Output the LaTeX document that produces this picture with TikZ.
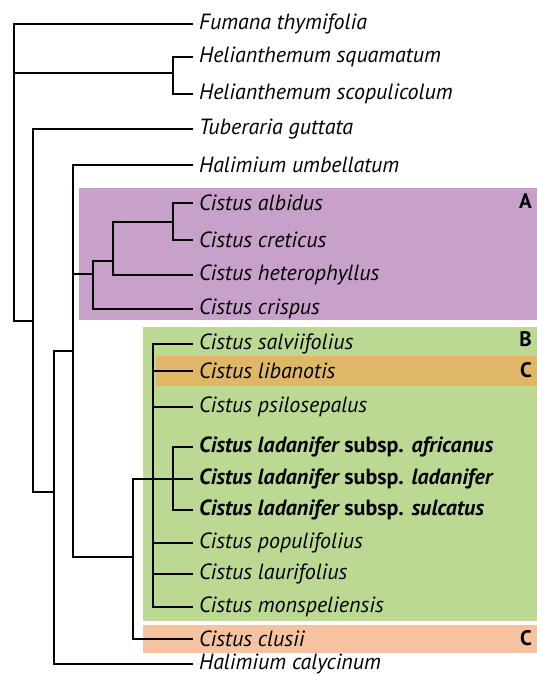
\documentclass[tikz,border=0pt]{standalone}
\usepackage{fontspec}
\setmainfont{PT Sans}
\usetikzlibrary{positioning}

\definecolor{cladeA}{RGB}{200,161,202}
\definecolor{cladeB}{RGB}{188,217,148}
\definecolor{cladeC}{RGB}{224,183,102}
\definecolor{cladeD}{RGB}{245,195,160}

\begin{document}
\begin{tikzpicture}[
    x=1pt, y=-1pt,
    taxon/.style={anchor=west, inner xsep=6pt, inner ysep=0pt, font=\fontsize{22}{24}\selectfont\itshape},
    clade/.style={anchor=east, inner sep=0pt, font=\fontsize{21}{24}\selectfont\bfseries},
    branch/.style={line width=1.8pt, black}
]
\useasboundingbox (0,0) rectangle (537,676);

% Clade boxes
\fill[cladeA] (79,188) rectangle (537,320);
\fill[cladeB] (143,327) rectangle (537,621);
\fill[cladeC] (156,356) rectangle (537,386);
\fill[cladeD] (143,625) rectangle (537,653);

\node[clade] (labA) at (532,201) {A};
\node[clade] (labB) at (532,339) {B};
\node[clade] (labC) at (532,370) {C};
\node[clade] (labD) at (532,638) {C};

% Taxa
\node[taxon] (fumana) at (193,24) {Fumana thymifolia};
\node[taxon] (hsqua) at (193,57) {Helianthemum squamatum};
\node[taxon] (hscop) at (193,94) {Helianthemum scopulicolum};
\node[taxon] (tuber) at (193,129) {Tuberaria guttata};
\node[taxon] (humb) at (193,165) {Halimium umbellatum};
\node[taxon] (albid) at (193,203) {Cistus albidus};
\node[taxon] (creti) at (193,240) {Cistus creticus};
\node[taxon] (heter) at (193,275) {Cistus heterophyllus};
\node[taxon] (crisp) at (193,309) {Cistus crispus};
\node[taxon] (salvi) at (193,344) {Cistus salviifolius};
\node[taxon] (liban) at (193,371) {Cistus libanotis};
\node[taxon] (psilo) at (193,407) {Cistus psilosepalus};
\node[taxon] (lafri) at (193,447) {\textbf{Cistus ladanifer} \textbf{\upshape subsp.} \textbf{africanus}};
\node[taxon] (llada) at (193,479) {\textbf{Cistus ladanifer} \textbf{\upshape subsp.} \textbf{ladanifer}};
\node[taxon] (lsulc) at (193,510) {\textbf{Cistus ladanifer} \textbf{\upshape subsp.} \textbf{sulcatus}};
\node[taxon] (popul) at (193,543) {Cistus populifolius};
\node[taxon] (lauri) at (193,574) {Cistus laurifolius};
\node[taxon] (monsp) at (193,607) {Cistus monspeliensis};
\node[taxon] (clusi) at (193,639) {Cistus clusii};
\node[taxon] (hcaly) at (193,664) {Halimium calycinum};

% Internal nodes
\coordinate (root) at (14,170);
\coordinate (nhel) at (173,73);
\coordinate (n1) at (33,321);
\coordinate (n2) at (54,492);
\coordinate (n3) at (73,351);
\coordinate (nA) at (93,274);
\coordinate (nA2) at (113,261);
\coordinate (nA3) at (173,222);
\coordinate (n4) at (133,557);
\coordinate (nB) at (153,479);
\coordinate (nlad) at (173,479);

% Branches
\draw[branch] (root) |- (fumana.west);
\draw[branch] (root) |- (nhel);
\draw[branch] (root) |- (n1);
\draw[branch] (nhel) |- (hsqua.west);
\draw[branch] (nhel) |- (hscop.west);
\draw[branch] (n1) |- (tuber.west);
\draw[branch] (n1) |- (n2);
\draw[branch] (n2) |- (n3);
\draw[branch] (n2) |- (hcaly.west);
\draw[branch] (n3) |- (humb.west);
\draw[branch] (n3) |- (nA);
\draw[branch] (n3) |- (n4);
\draw[branch] (nA) |- (nA2);
\draw[branch] (nA) |- (crisp.west);
\draw[branch] (nA2) |- (nA3);
\draw[branch] (nA2) |- (heter.west);
\draw[branch] (nA3) |- (albid.west);
\draw[branch] (nA3) |- (creti.west);
\draw[branch] (n4) |- (nB);
\draw[branch] (n4) |- (clusi.west);
\foreach \t in {salvi,liban,psilo,popul,lauri,monsp}
  \draw[branch] (nB) |- (\t.west);
\draw[branch] (nB) -- (nlad);
\draw[branch] (nlad) |- (lafri.west);
\draw[branch] (nlad) |- (llada.west);
\draw[branch] (nlad) |- (lsulc.west);
\end{tikzpicture}
\end{document}
